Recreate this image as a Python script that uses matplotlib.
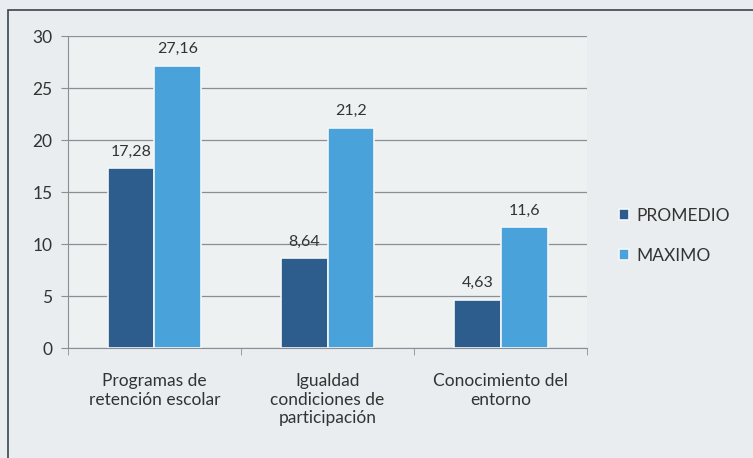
import numpy as np
import matplotlib.pyplot as plt
from matplotlib.patches import Rectangle

# Data
categorias = ['Programas de\nretención escolar', 'Igualdad\ncondiciones de\nparticipación',
              'Conocimiento del\nentorno']
promedio = [17.28, 8.64, 4.63]
maximo = [27.16, 21.2, 11.6]
etiquetas_prom = ['17,28', '8,64', '4,63']
etiquetas_max = ['27,16', '21,2', '11,6']

plt.rcParams['font.family'] = ['Lato', 'DejaVu Sans']

fig = plt.figure(figsize=(7.53, 4.58), dpi=100)
fig.patch.set_facecolor('#e9edef')
ax = fig.add_axes([0.090, 0.240, 0.690, 0.681])
ax.set_facecolor('#eef1f2')

# outer chart frame
fig.patches.append(Rectangle((8 / 753, -0.05), 1.1, 1 - 10 / 458 + 0.05, transform=fig.transFigure,
                             fill=False, edgecolor='#3a4550', linewidth=1.2))

x = np.arange(len(categorias))
w = 0.27
c_prom = '#2d5d8c'
c_max = '#4aa2da'
b1 = ax.bar(x - w / 2, promedio, w, color=c_prom, edgecolor='#f4f6f7', linewidth=1.2,
            label='PROMEDIO', zorder=3)
b2 = ax.bar(x + w / 2, maximo, w, color=c_max, edgecolor='#f4f6f7', linewidth=1.2,
            label='MAXIMO', zorder=3)

for rect, t in zip(b1, etiquetas_prom):
    ax.annotate(t, (rect.get_x() + rect.get_width() / 2, rect.get_height()), xytext=(0, 7),
                textcoords='offset points', ha='center', va='bottom', fontsize=11.5, color='#333333')
for rect, t in zip(b2, etiquetas_max):
    ax.annotate(t, (rect.get_x() + rect.get_width() / 2, rect.get_height()), xytext=(0, 7),
                textcoords='offset points', ha='center', va='bottom', fontsize=11.5, color='#333333')

ax.set_xlim(-0.5, 2.5)
ax.set_ylim(0, 30)
ax.set_yticks(range(0, 31, 5))
ax.yaxis.grid(True, color='#8a8f94', linewidth=0.9, zorder=0)
ax.set_axisbelow(True)

ax.set_xticks(x)
ax.set_xticklabels(categorias, fontsize=12.5, color='#333333', linespacing=1.2)
ax.tick_params(axis='x', length=0, pad=18)
ax.set_xticks([-0.5, 0.5, 1.5, 2.5], minor=True)
ax.tick_params(axis='x', which='minor', length=5, color='#8a8f94')
ax.tick_params(axis='y', labelsize=12.5, labelcolor='#333333', length=5, color='#8a8f94', pad=6)

for s in ['top', 'right']:
    ax.spines[s].set_visible(False)
ax.spines['left'].set_color('#8a8f94')
ax.spines['bottom'].set_color('#8a8f94')

ax.legend(loc='center left', bbox_to_anchor=(1.03, 0.36), frameon=False, fontsize=12.5,
          handlelength=0.6, handleheight=0.6, handletextpad=0.4, labelspacing=1.4,
          labelcolor='#333333')

fig.savefig('out.png', dpi=100, facecolor=fig.get_facecolor())
